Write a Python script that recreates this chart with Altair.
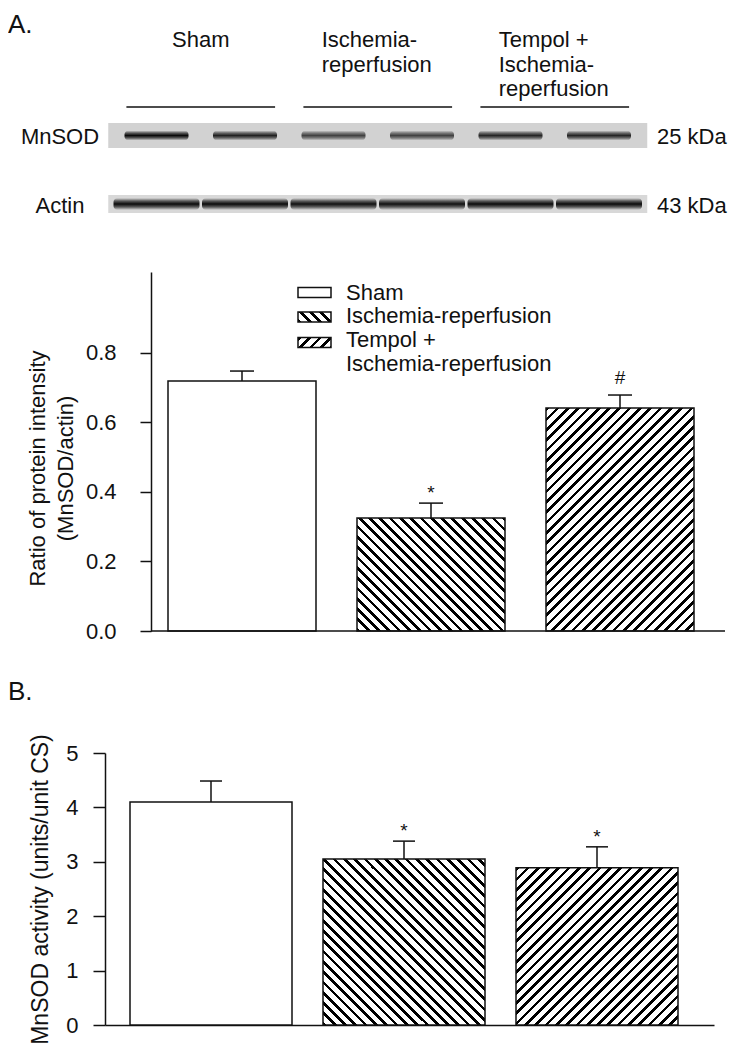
import altair as alt
import pandas as pd

FONT = "Liberation Sans"
INK = "#111111"

# ---------------- data ----------------
groups = ["Sham", "Ischemia-reperfusion", "Tempol + Ischemia-reperfusion"]

ratio_mean = [0.719, 0.325, 0.642]
ratio_sem = [0.029, 0.043, 0.037]
ratio_sig = ["", "*", "#"]
ratio_ticks = [0.0, 0.2, 0.4, 0.6, 0.8]

activity_mean = [4.10, 3.05, 2.89]
activity_sem = [0.385, 0.33, 0.385]
activity_sig = ["", "*", "*"]
activity_ticks = [0, 1, 2, 3, 4, 5]

blot_lanes = [1, 2, 3, 4, 5, 6]
blot_lane_group = [0, 0, 1, 1, 2, 2]
blot_rows = ["MnSOD", "Actin"]
blot_sizes = ["25 kDa", "43 kDa"]
mnsod_intensity = [1.0, 0.88, 0.72, 0.72, 0.86, 0.86]
actin_intensity = [1.0, 1.0, 0.97, 0.97, 1.0, 1.0]
blot_group_labels = ["Sham", "Ischemia-\nreperfusion", "Tempol +\nIschemia-\nreperfusion"]

legend_labels = ["Sham", "Ischemia-reperfusion", "Tempol +", "Ischemia-reperfusion"]


# ---------------- helpers ----------------
def hatch(w, h, direction, period=10.3, ink=0.36):
    """Diagonal hatch as a hard-stop linear gradient for a w x h pixel box."""
    L = w + h
    stops = []
    n = 0
    while n * period < L:
        a = n * period / L
        b = min((n * period + ink * period) / L, 1.0)
        stops += [
            alt.GradientStop(color="white", offset=a),
            alt.GradientStop(color="black", offset=a),
            alt.GradientStop(color="black", offset=b),
            alt.GradientStop(color="white", offset=b),
        ]
        n += 1
    k = L / (w * w + h * h)
    if direction == "\\":
        x1, y1, x2, y2 = 0, 1, k * w, 1 - k * h
    else:
        x1, y1, x2, y2 = 0, 0, k * w, k * h
    return alt.LinearGradient(gradient="linear", stops=stops, x1=x1, y1=y1, x2=x2, y2=y2)


def band_scale(width, bar, gap, left, n=3):
    step = bar + gap
    pi = gap / step
    po = (width / step - (n - pi)) / 2
    align = left / (width - step * (n - pi))
    return alt.Scale(domain=groups, paddingInner=pi, paddingOuter=po, align=align, round=False)


def txt(**kw):
    base = dict(font=FONT, fontSize=22, color=INK)
    base.update(kw)
    return base


one = pd.DataFrame({"k": [0]})

# ---------------- blot panel ----------------
BL_W, BL_H = 628, 222
PITCH = 88.5          # px between lane centres
LANE1 = 51.5          # px of lane 1 from the plot origin
lane_scale = alt.Scale(domain=[1 - LANE1 / PITCH, 1 + (BL_W - LANE1) / PITCH], nice=False, zero=False)
row_scale = alt.Scale(type="point", domain=blot_rows, range=[127.5, 196], padding=0)

strip_df = pd.DataFrame({"row": blot_rows, "lane": [sum(blot_lanes) / len(blot_lanes)] * 2})
band_df = pd.DataFrame({
    "lane": blot_lanes * 2,
    "row": ["MnSOD"] * 6 + ["Actin"] * 6,
    "intensity": mnsod_intensity + actin_intensity,
})
centers = [sum(l for l, g in zip(blot_lanes, blot_lane_group) if g == i) / 2 for i in range(3)]
glab_df = pd.DataFrame({"label": blot_group_labels, "center": centers})
row_df = pd.DataFrame({"row": blot_rows, "size": blot_sizes})

xL = alt.X("lane:Q", scale=lane_scale, axis=None)
yR = alt.Y("row:N", scale=row_scale, axis=None)


def band_fill(edge):
    return alt.LinearGradient(gradient="linear", x1=0, y1=0, x2=0, y2=1, stops=[
        alt.GradientStop(color=edge, offset=0),
        alt.GradientStop(color="#5a5a5a", offset=0.25),
        alt.GradientStop(color="#0a0a0a", offset=0.5),
        alt.GradientStop(color="#5a5a5a", offset=0.75),
        alt.GradientStop(color=edge, offset=1),
    ])


strip_m = alt.Chart(strip_df).transform_filter(alt.datum.row == "MnSOD").mark_tick(
    orient="horizontal", size=539, thickness=25, color="#d2d2d2", opacity=1).encode(x=xL, y=yR)
strip_a = alt.Chart(strip_df).transform_filter(alt.datum.row == "Actin").mark_tick(
    orient="horizontal", size=539, thickness=18, color="#d8d8d8", opacity=1).encode(x=xL, y=yR)
band_m = alt.Chart(band_df).transform_filter(alt.datum.row == "MnSOD").mark_tick(
    orient="horizontal", size=64, thickness=10, color=band_fill("#d2d2d2"), cornerRadius=4).encode(
    x=xL, y=yR, opacity=alt.Opacity("intensity:Q", scale=alt.Scale(domain=[0, 1], range=[0, 1]), legend=None))
band_a = alt.Chart(band_df).transform_filter(alt.datum.row == "Actin").mark_tick(
    orient="horizontal", size=86, thickness=12, color=band_fill("#d8d8d8"), cornerRadius=4).encode(
    x=xL, y=yR, opacity=alt.Opacity("intensity:Q", scale=alt.Scale(domain=[0, 1], range=[0, 1]), legend=None))

glab_single = alt.Chart(glab_df).transform_filter("indexof(datum.label, '\\n') < 0").mark_text(
    **txt(align="center", baseline="alphabetic")).encode(
    x=alt.X("center:Q", scale=lane_scale, axis=None), y=alt.value(39), text="label:N")
glab_multi = alt.Chart(glab_df).transform_filter("indexof(datum.label, '\\n') >= 0").mark_text(
    **txt(align="left", baseline="alphabetic", dx=-56, lineBreak="\n", lineHeight=24.5)).encode(
    x=alt.X("center:Q", scale=lane_scale, axis=None), y=alt.value(39), text="label:N")
gline = alt.Chart(glab_df).transform_calculate(lo="datum.center - 0.84", hi="datum.center + 0.84").mark_rule(
    color=INK, strokeWidth=1.5).encode(x=alt.X("lo:Q", scale=lane_scale, axis=None), x2="hi:Q", y=alt.value(99))
row_lab = alt.Chart(row_df).mark_text(**txt(align="center", baseline="middle", dy=1.5)).encode(
    x=alt.value(-45), y=yR, text="row:N")
size_lab = alt.Chart(row_df).mark_text(**txt(align="left", baseline="middle", dy=1.5)).encode(
    x=alt.value(552), y=yR, text="size:N")
panel_a = alt.Chart(one).mark_text(**txt(fontSize=26, align="left", baseline="alphabetic", text="A.")).encode(
    x=alt.value(-97), y=alt.value(25))

blot = alt.layer(strip_m, strip_a, band_m, band_a, glab_single, glab_multi, gline, row_lab, size_lab,
                 panel_a).properties(width=BL_W, height=BL_H)

# ---------------- chart A ----------------
A_W, A_H, A_TOP = 620, 359, 1.033
A_BAR = 148
pxA = A_H / A_TOP
dfA = pd.DataFrame({"group": groups, "mean": ratio_mean, "sem": ratio_sem, "sig": ratio_sig})
xA = alt.X("group:N", sort=groups, scale=band_scale(A_W, A_BAR, 41, 63), axis=None)
yA_scale = alt.Scale(domain=[0, A_TOP], nice=False, zero=True)
axisA = alt.Axis(values=ratio_ticks, format=".1f", grid=False, offset=-46,
                 tickSize=11, tickWidth=1.5, tickColor=INK, domainColor=INK, domainWidth=1.5,
                 labelFont=FONT, labelFontSize=22, labelColor=INK, labelPadding=24,
                 title=["Ratio of protein intensity", "(MnSOD/actin)"], titleFont=FONT, titleFontSize=22,
                 titleFontWeight="normal", titleColor=INK, titleLineHeight=28, titleX=-102, titleY=196)


def yA(field):
    return alt.Y(field, scale=yA_scale, axis=axisA)


baseA = alt.Chart(dfA).transform_calculate(upper="datum.mean + datum.sem")
fillsA = ["white", hatch(A_BAR, ratio_mean[1] * pxA, "\\"), hatch(A_BAR, ratio_mean[2] * pxA, "/")]
barsA = [baseA.transform_filter(alt.datum.group == g).mark_bar(
    fill=f, stroke=INK, strokeWidth=1.5, opacity=1).encode(x=xA, y=yA("mean:Q")) for g, f in zip(groups, fillsA)]
baselineA = alt.Chart(one).mark_rule(color=INK, strokeWidth=1.5).encode(
    x=alt.value(46), x2=alt.value(A_W), y=alt.YDatum(0, scale=yA_scale, axis=axisA))
errA = baseA.mark_rule(color=INK, strokeWidth=1.5).encode(x=xA, y=yA("mean:Q"), y2="upper:Q")
capA = baseA.mark_tick(color=INK, thickness=1.5, size=24, opacity=1).encode(x=xA, y=yA("upper:Q"))
starA = baseA.transform_filter(alt.datum.sig == "*").mark_text(
    **txt(fontSize=19, baseline="alphabetic", dy=-4)).encode(x=xA, y=yA("upper:Q"), text="sig:N")
hashA = baseA.transform_filter(alt.datum.sig == "#").mark_text(
    **txt(fontSize=19, baseline="alphabetic", dy=-11)).encode(x=xA, y=yA("upper:Q"), text="sig:N")

LEG_X0, LEG_X1 = 193, 226
leg_centers = [20.5, 45, 70.5]
leg_fills = ["white", hatch(LEG_X1 - LEG_X0, 10, "\\"), hatch(LEG_X1 - LEG_X0, 10, "/")]
legend_boxes = [alt.Chart(one).mark_rect(fill=f, stroke=INK, strokeWidth=1.5).encode(
    x=alt.value(LEG_X0), x2=alt.value(LEG_X1), y=alt.value(c - 5), y2=alt.value(c + 5))
    for f, c in zip(leg_fills, leg_centers)]
legend_text = alt.Chart(pd.DataFrame({"t": ["\n".join(legend_labels)]})).mark_text(
    **txt(align="left", baseline="top", lineBreak="\n", lineHeight=23.6)).encode(
    x=alt.value(241), y=alt.value(10.8), text="t:N")

chartA = alt.layer(*barsA, baselineA, errA, capA, starA, hashA, *legend_boxes, legend_text).properties(
    width=A_W, height=A_H)

# ---------------- chart B ----------------
B_W, B_H, B_TOP = 609, 272, 5
B_BAR = 162
pxB = B_H / B_TOP
dfB = pd.DataFrame({"group": groups, "mean": activity_mean, "sem": activity_sem, "sig": activity_sig})
xB = alt.X("group:N", sort=groups, scale=band_scale(B_W, B_BAR, 31, 25),
           axis=alt.Axis(domain=True, domainColor=INK, domainWidth=1.5, labels=False, ticks=False,
                         title=None, grid=False))
yB_scale = alt.Scale(domain=[0, B_TOP], nice=False, zero=True)
axisB = alt.Axis(values=activity_ticks, format="d", grid=False,
                 tickSize=12, tickWidth=1.5, tickColor=INK, domainColor=INK, domainWidth=1.5,
                 labelFont=FONT, labelFontSize=22, labelColor=INK, labelPadding=15,
                 title="MnSOD activity (units/unit CS)", titleFont=FONT, titleFontSize=23,
                 titleFontWeight="normal", titleColor=INK, titleX=-53, titleY=B_H / 2)


def yB(field):
    return alt.Y(field, scale=yB_scale, axis=axisB)


baseB = alt.Chart(dfB).transform_calculate(upper="datum.mean + datum.sem")
fillsB = ["white", hatch(B_BAR, activity_mean[1] * pxB, "\\"), hatch(B_BAR, activity_mean[2] * pxB, "/")]
barsB = [baseB.transform_filter(alt.datum.group == g).mark_bar(
    fill=f, stroke=INK, strokeWidth=1.5, opacity=1).encode(x=xB, y=yB("mean:Q")) for g, f in zip(groups, fillsB)]
errB = baseB.mark_rule(color=INK, strokeWidth=1.5).encode(x=xB, y=yB("mean:Q"), y2="upper:Q")
capB = baseB.mark_tick(color=INK, thickness=1.5, size=22, opacity=1).encode(x=xB, y=yB("upper:Q"))
starB = baseB.transform_filter(alt.datum.sig == "*").mark_text(
    **txt(fontSize=19, baseline="alphabetic", dy=-4)).encode(x=xB, y=yB("upper:Q"), text="sig:N")
panel_b = alt.Chart(one).mark_text(**txt(fontSize=26, align="left", baseline="alphabetic", text="B.")).encode(
    x=alt.value(-97), y=alt.value(-53))

chartB = alt.layer(*barsB, errB, capB, starB, panel_b).properties(width=B_W, height=B_H)

# ---------------- assemble ----------------
chart = alt.vconcat(
    blot,
    alt.vconcat(chartA, chartB, spacing=37),
    spacing=42,
).properties(padding=0).configure_view(stroke=None)

chart.save("out.html", embed_options={"renderer": "svg", "actions": False})
